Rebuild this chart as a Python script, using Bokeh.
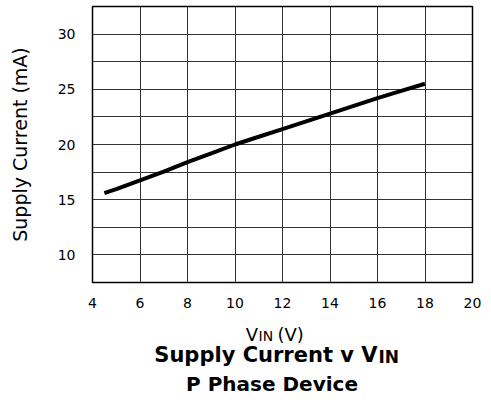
from bokeh.plotting import figure
from bokeh.models import FixedTicker, Label, Range1d
from bokeh.layouts import column
from bokeh.embed import file_html
from bokeh.resources import INLINE

vin = [4.5, 5, 6, 7, 8, 9, 10, 11, 12, 13, 14, 15, 16, 17, 18]
current = [15.6, 15.95, 16.75, 17.55, 18.4, 19.2, 20.0, 20.7, 21.4, 22.1, 22.8, 23.5, 24.2, 24.85, 25.5]
x_ticks = [4, 6, 8, 10, 12, 14, 16, 18, 20]
y_ticks = [10, 15, 20, 25, 30]
y_minor = [7.5, 12.5, 17.5, 22.5, 27.5, 32.5]

FONT = "DejaVu Sans"

p = figure(width=490, height=318, output_backend="svg", toolbar_location=None,
           x_range=Range1d(4, 20), y_range=Range1d(7.5, 32.5),
           min_border_left=92, min_border_right=18, min_border_top=6, min_border_bottom=36)
p.frame_width = 380
p.frame_height = 276

p.line(vin, current, line_width=4, line_color="black")

p.xaxis.ticker = FixedTicker(ticks=x_ticks)
p.yaxis.ticker = FixedTicker(ticks=y_ticks, minor_ticks=y_minor)
p.xgrid.ticker = FixedTicker(ticks=x_ticks)
for g in (p.xgrid, p.ygrid):
    g.grid_line_color = "#333333"
    g.grid_line_width = 1
    g.grid_line_alpha = 1
p.ygrid.minor_grid_line_color = "#333333"
p.ygrid.minor_grid_line_width = 1

for ax in (p.xaxis, p.yaxis):
    ax.axis_line_color = None
    ax.major_tick_line_color = None
    ax.minor_tick_line_color = None
    ax.major_label_text_font = FONT
    ax.major_label_text_font_size = "14px"
    ax.major_label_text_color = "black"
p.xaxis.major_label_standoff = 9
p.yaxis.major_label_standoff = 11

p.yaxis.axis_label = "Supply Current (mA)"
p.yaxis.axis_label_text_font = FONT
p.yaxis.axis_label_text_font_size = "19px"
p.yaxis.axis_label_text_font_style = "normal"
p.yaxis.axis_label_text_color = "black"
p.yaxis.axis_label_standoff = 24

p.outline_line_color = "black"
p.outline_line_width = 1.5
p.outline_line_alpha = 1

# caption area below the chart (its frame aligns with the chart frame: 92..472 px)
p2 = figure(width=490, height=84, output_backend="svg", toolbar_location=None,
            x_range=Range1d(92, 472), y_range=Range1d(84, 0),
            x_axis_type=None, y_axis_type=None,
            min_border_left=0, min_border_right=0, min_border_top=0, min_border_bottom=0)
p2.grid.visible = False
p2.outline_line_color = None

def lab(x, y, t, size, bold=False, align="left"):
    p2.add_layout(Label(x=x, y=y, text=t, text_font=FONT, text_font_size=size,
                        text_font_style="bold" if bold else "normal",
                        text_align=align, text_baseline="alphabetic", text_color="black"))

# x axis label: V IN (V)
lab(257.5, 16, "V", "18px", align="right")
lab(258, 17, "IN", "14px")
lab(277, 16, "(V)", "18px")
# title
lab(377, 36, "Supply Current v V", "21px", bold=True, align="right")
lab(378, 38, "IN", "17px", bold=True)
lab(271.5, 65, "P Phase Device", "20px", bold=True, align="center")

open("out.html", "w").write(file_html(column(p, p2, spacing=0), INLINE))
